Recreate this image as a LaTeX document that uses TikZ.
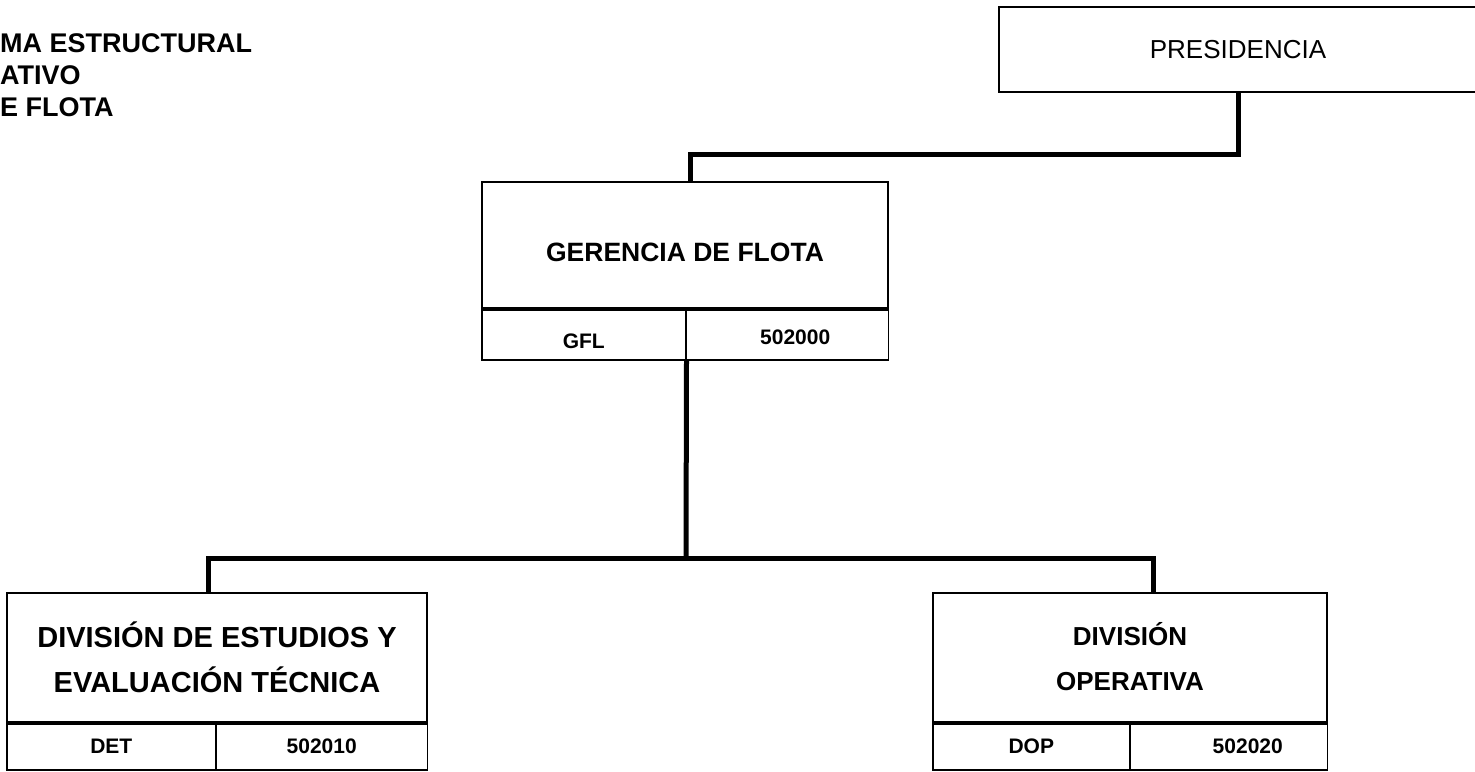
\documentclass[tikz,border=0pt]{standalone}
\usepackage{fontspec}
\setmainfont{Liberation Sans}

\begin{document}
\begin{tikzpicture}[x=1pt, y=-1pt,
    unit/.style={draw, line width=2pt, inner sep=0pt, align=center},
    cell/.style={draw, line width=1.5pt, inner sep=0pt,
        font=\bfseries\fontsize{21}{21}\selectfont},
    link/.style={line width=5pt}]
    \useasboundingbox (0,0) rectangle (1475,771);
    \clip (0,0) rectangle (1475,771);

    % titulo, cortado por el borde
    \node[anchor=north west, inner sep=0pt, align=left,
        font=\bfseries\fontsize{27}{32}\selectfont] (titulo) at (0,33)
        {MA ESTRUCTURAL\\ATIVO\\E FLOTA};

    \node[unit, minimum width=478pt, minimum height=85pt,
        font=\fontsize{26}{26}\selectfont] (pres) at (1238,49.5) {PRESIDENCIA};

    \node[unit, minimum width=406pt, minimum height=126pt, text height=32pt, text depth=0pt,
        font=\bfseries\fontsize{26.5}{26.5}\selectfont] (gfl) at (685,245) {GERENCIA DE FLOTA};
    \node[cell, minimum width=204pt, minimum height=50pt, text height=28pt, text depth=0pt,
        anchor=north west] (gflcod) at (gfl.south west) {GFL};
    \node[cell, minimum width=202pt, minimum height=50pt, text height=20pt, text depth=0pt,
        anchor=north east] (gflnum) at (gfl.south east) {\hspace*{16pt}502000};

    \node[unit, minimum width=420pt, minimum height=129pt,
        font=\bfseries\fontsize{29}{45}\selectfont] (det) at (217,657.5)
        {DIVISIÓN DE ESTUDIOS Y\\EVALUACIÓN TÉCNICA};
    \node[cell, minimum width=209pt, minimum height=46pt, anchor=north west] (detcod) at (det.south west) {DET};
    \node[cell, minimum width=211pt, minimum height=46pt, anchor=north east] (detnum) at (det.south east) {502010};

    \node[unit, minimum width=394pt, minimum height=129pt, text depth=3pt,
        font=\bfseries\fontsize{26}{45}\selectfont] (dop) at (1130,657.5)
        {DIVISIÓN\\OPERATIVA};
    \node[cell, minimum width=197pt, minimum height=46pt, anchor=north west] (dopcod) at (dop.south west) {DOP};
    \node[cell, minimum width=197pt, minimum height=46pt, anchor=north east] (dopnum) at (dop.south east) {\hspace*{38pt}502020};

    % conectores
    \draw[link] (pres.south) -- ++(0,61) -| ([xshift=5]gfl.north);
    \coordinate (hub) at (686,558);
    \draw[link] (gflcod.south east) -- (hub);
    \draw[link] ([xshift=-9]det.north) |- (hub) -| ([xshift=23]dop.north);
\end{tikzpicture}
\end{document}
